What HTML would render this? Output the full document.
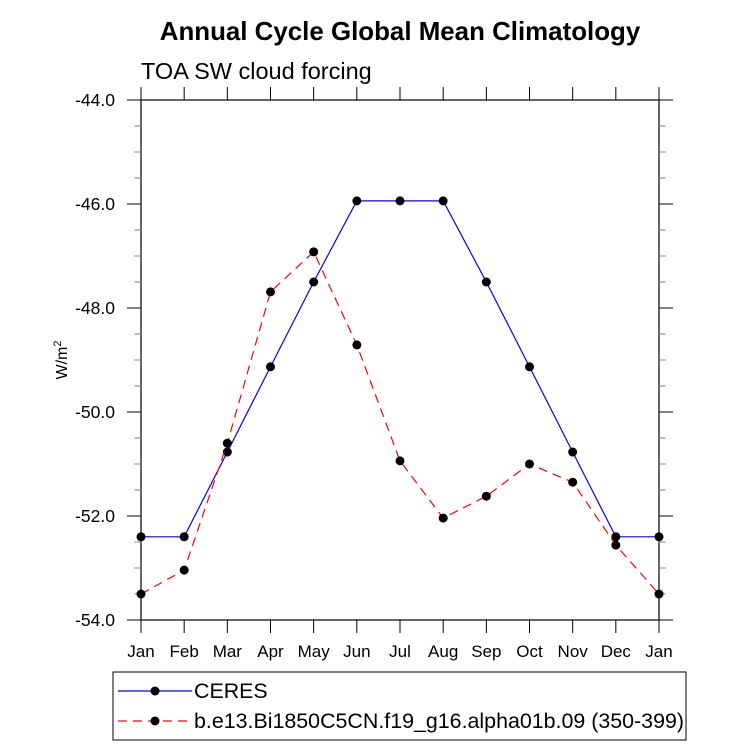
<!DOCTYPE html>
<html><head><meta charset="utf-8"><style>body{margin:0;background:#fff}svg{display:block;font-family:"Liberation Sans",sans-serif}</style></head>
<body>
<svg id="c" width="733" height="748">
<text x="400" y="40" text-anchor="middle" font-size="25.9" font-weight="bold">Annual Cycle Global Mean Climatology</text>
<text x="141" y="79" font-size="23.5">TOA SW cloud forcing</text>
<text transform="translate(67,360) rotate(-90)" text-anchor="middle" font-size="16">W/m<tspan dy="-6" font-size="11">2</tspan></text>
<g id="g"></g>
<rect x="113" y="672" width="573" height="68" fill="none" stroke="#000" stroke-width="1"/>
<line x1="118" y1="691" x2="192" y2="691" stroke="#0000ff" stroke-width="1.2"/>
<circle cx="155" cy="691" r="4.5" fill="#000"/>
<text x="194" y="698" font-size="21.4">CERES</text>
<line x1="118" y1="721" x2="192" y2="721" stroke="#ff0000" stroke-width="1.2" stroke-dasharray="9,6"/>
<circle cx="155" cy="721" r="4.5" fill="#000"/>
<text x="194" y="728" font-size="21.4">b.e13.Bi1850C5CN.f19_g16.alpha01b.09 (350-399)</text>
</svg>
<script>
const months=["Jan","Feb","Mar","Apr","May","Jun","Jul","Aug","Sep","Oct","Nov","Dec","Jan"];
const ceres=[-52.40,-52.40,-50.77,-49.13,-47.50,-45.94,-45.94,-45.94,-47.50,-49.13,-50.77,-52.40,-52.40];
const model=[-53.50,-53.04,-50.60,-47.69,-46.92,-48.71,-50.94,-52.04,-51.62,-51.00,-51.35,-52.56,-53.50];
const yTicks=[-44,-46,-48,-50,-52,-54];
const L=141,R=659,T=100,B=620,yMax=-44,yMin=-54;
const x=i=>L+(R-L)*i/(months.length-1);
const y=v=>T+(yMax-v)/(yMax-yMin)*(B-T);
const g=document.getElementById('g'),NS='http://www.w3.org/2000/svg';
function mk(t,a){const e=document.createElementNS(NS,t);for(const k in a)e.setAttribute(k,a[k]);g.appendChild(e);return e;}
let e=mk('rect',{x:L,y:T,width:R-L,height:B-T,fill:'none',stroke:'#000','stroke-width':1.2});


months.forEach((m,i)=>{
 mk('line',{x1:x(i),x2:x(i),y1:B,y2:B+13,stroke:'#000'});
 mk('line',{x1:x(i),x2:x(i),y1:T,y2:T-13,stroke:'#000'});
 const t=mk('text',{x:x(i),y:B+37,'text-anchor':'middle','font-size':17});t.textContent=m;
 
 
});
for(let v=yMax;v>=yMin-0.01;v-=0.5){
 const maj=Math.abs(v/2-Math.round(v/2))<0.01,len=maj?14:7;
 mk('line',{x1:L-len,x2:L,y1:y(v),y2:y(v),stroke:maj?'#000':'#888'});
 mk('line',{x1:R,x2:R+len,y1:y(v),y2:y(v),stroke:maj?'#000':'#888'});
}
yTicks.forEach(v=>{const t=mk('text',{x:115,y:y(v)+6,'text-anchor':'end','font-size':17.5});t.textContent=v.toFixed(1);
 
 });
function series(d,c,dash,name){
 const p=mk('polyline',{points:d.map((v,i)=>x(i)+','+y(v)).join(' '),fill:'none',stroke:c,'stroke-width':1.2});
 if(dash)p.setAttribute('stroke-dasharray','9,6');
 
 
 d.forEach((v,i)=>{const c2=mk('circle',{cx:x(i),cy:y(v),r:4.5,fill:'#000'});
 
 });
}
series(ceres,'#0000ff',false,'ceres');
series(model,'#ff0000',true,'model');
</script>
</body></html>
